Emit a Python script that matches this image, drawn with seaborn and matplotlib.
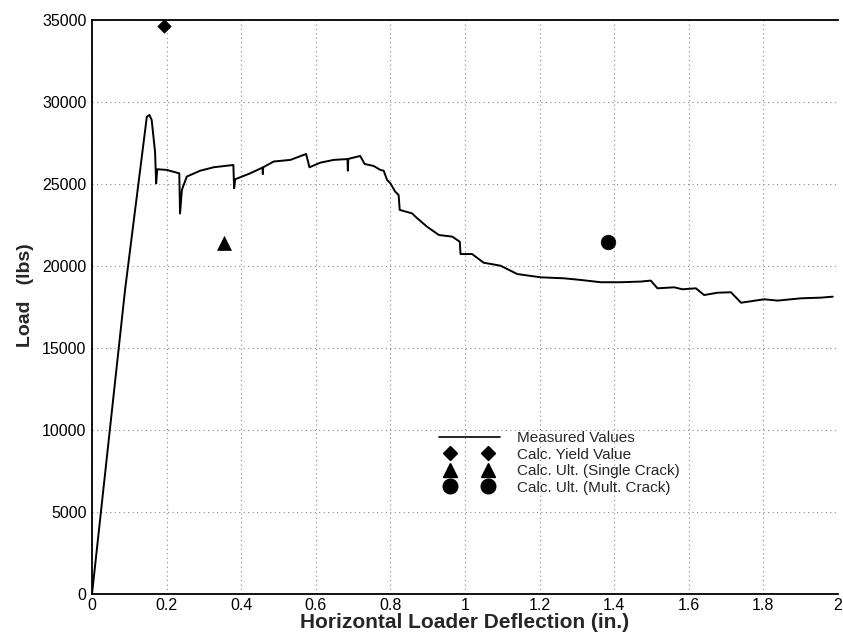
import matplotlib
matplotlib.use("Agg")
import matplotlib.pyplot as plt
from matplotlib.lines import Line2D
from matplotlib.legend_handler import HandlerLine2D
import seaborn as sns
import pandas as pd

# Measured load-deflection record (in., lbs)
deflection = [0.000, 0.0886, 0.147, 0.154, 0.160, 0.169, 0.172, 0.175, 0.200, 0.234,
              0.236, 0.241, 0.254, 0.290, 0.326, 0.379, 0.381, 0.384, 0.424, 0.457,
              0.458, 0.459, 0.487, 0.532, 0.574, 0.583, 0.612, 0.648, 0.685, 0.686,
              0.687, 0.719, 0.731, 0.755, 0.773, 0.782, 0.791, 0.800, 0.813, 0.822,
              0.825, 0.858, 0.872, 0.898, 0.930, 0.966, 0.986, 0.988, 1.019, 1.050,
              1.095, 1.140, 1.203, 1.265, 1.310, 1.364, 1.417, 1.471, 1.498, 1.516,
              1.561, 1.583, 1.619, 1.641, 1.677, 1.713, 1.740, 1.802, 1.838, 1.901,
              1.954, 1.986]
load = [0, 18540, 29100, 29210, 28900, 26970, 25040, 25900, 25860, 25650,
        23200, 24640, 25450, 25810, 26020, 26160, 24740, 25290, 25650, 26000,
        25600, 26020, 26370, 26470, 26830, 26020, 26300, 26470, 26520, 25810,
        26530, 26710, 26220, 26100, 25860, 25810, 25250, 25040, 24530, 24330,
        23420, 23210, 22910, 22400, 21890, 21790, 21480, 20730, 20730, 20200,
        20020, 19510, 19310, 19250, 19150, 19010, 19010, 19050, 19110, 18640,
        18700, 18580, 18640, 18230, 18370, 18400, 17760, 17970, 17890, 18030,
        18070, 18130]

# Calculated values
yield_x, yield_y = [0.193], [34640]
single_x, single_y = [0.353], [21390]
mult_x, mult_y = [1.384], [21480]

x_ticks = [0, 0.2, 0.4, 0.6, 0.8, 1, 1.2, 1.4, 1.6, 1.8, 2]
x_tick_labels = ["0", "0.2", "0.4", "0.6", "0.8", "1", "1.2", "1.4", "1.6", "1.8", "2"]
y_ticks = [0, 5000, 10000, 15000, 20000, 25000, 30000, 35000]

sns.set_theme(style="white")
plt.rcParams["font.family"] = ["Liberation Sans", "DejaVu Sans"]

fig = plt.figure(figsize=(8.43, 6.34), dpi=100)
ax = fig.add_axes([92 / 843, 1 - 594 / 634, 746 / 843, 574 / 634])

measured = pd.DataFrame({"x": deflection, "y": load})
sns.lineplot(data=measured, x="x", y="y", ax=ax, color="black", lw=1.4,
             sort=False, estimator=None)
sns.scatterplot(x=yield_x, y=yield_y, ax=ax, marker="D", s=6.8 ** 2,
                color="black", edgecolor="black", linewidth=0.5, zorder=5)
sns.scatterplot(x=single_x, y=single_y, ax=ax, marker="^", s=10 ** 2,
                color="black", edgecolor="black", linewidth=0.5, zorder=5)
sns.scatterplot(x=mult_x, y=mult_y, ax=ax, marker="o", s=10.5 ** 2,
                color="black", edgecolor="black", linewidth=0.5, zorder=5)

ax.set_xlim(0, 2)
ax.set_ylim(0, 35000)
ax.set_xticks(x_ticks)
ax.set_xticklabels(x_tick_labels)
ax.set_yticks(y_ticks)
ax.tick_params(axis="both", length=0, labelsize=11.5, colors="black")
ax.tick_params(axis="x", pad=3)
ax.tick_params(axis="y", pad=4)

ax.grid(True, color="#8a8a8a", linestyle=(0, (1, 3)), linewidth=0.8)
for side in ("top", "left", "bottom"):
    ax.spines[side].set_visible(True)
    ax.spines[side].set_color("black")
    ax.spines[side].set_linewidth(1.3)
ax.spines["right"].set_visible(False)

ax.set_xlabel("Horizontal Loader Deflection (in.)", fontsize=15, fontweight="bold",
              labelpad=0)
ax.set_ylabel("Load   (lbs)", fontsize=14, fontweight="bold", labelpad=6)
ax.yaxis.label.set_y(0.52)

handles = [
    Line2D([], [], color="black", lw=1.2),
    Line2D([], [], color="black", ls="none", marker="D", ms=6.8),
    Line2D([], [], color="black", ls="none", marker="^", ms=10),
    Line2D([], [], color="black", ls="none", marker="o", ms=10.5),
]
labels = ["Measured Values", "Calc. Yield Value",
          "Calc. Ult. (Single Crack)", "Calc. Ult. (Mult. Crack)"]
marker_handler = HandlerLine2D(marker_pad=1.05)
leg = ax.legend(handles, labels, loc="upper left",
                bbox_to_anchor=(434 / 843, 1 - 431 / 634), bbox_transform=fig.transFigure,
                frameon=False, numpoints=2, handlelength=4.6, handletextpad=0.85,
                labelspacing=0.17, borderpad=0, borderaxespad=0, fontsize=11,
                handler_map={h: marker_handler for h in handles[1:]})

fig.savefig("out.png", dpi=100)
